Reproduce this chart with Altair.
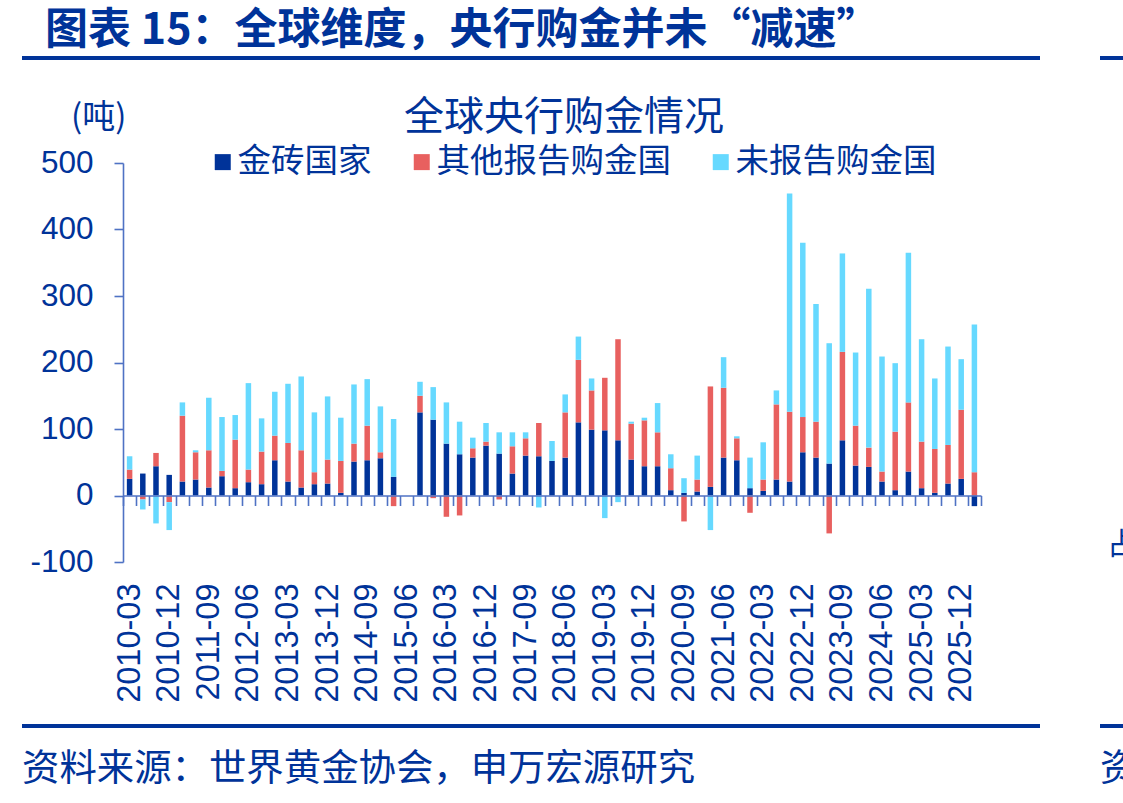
import altair as alt
import pandas as pd

quarters = [f"{y}-{m:02d}" for y in range(2010, 2027) for m in (3, 6, 9, 12)][:65]

brics = [25, 33, 44, 31, 21, 24, 12, 29, 11, 20, 17, 53, 21, 12, 17, 18, 4, 51, 53, 56,
         28, 0, 125, 114, 78, 62, 57, 75, 63, 33, 60, 59, 52, 57, 110, 99, 98, 83, 54, 44,
         44, 8, 4, 6, 13, 57, 53, 11, 7, 24, 21, 65, 57, 48, 83, 45, 43, 21, 8, 36,
         11, 4, 18, 25, -16]
other = [14, -6, 20, -10, 99, 41, 56, 8, 73, 19, 49, 37, 58, 56, 18, 36, 48, 27, 52, 9,
         -16, 0, 25, -4, -32, -30, 14, 6, -6, 41, 26, 50, 0, 68, 94, 59, 79, 152, 54, 69,
         51, 33, -39, 18, 151, 105, 33, -26, 17, 113, 105, 53, 54, -57, 133, 60, 29, 15, 88, 104,
         70, 66, 58, 104, 35]
unrep = [20, -15, -42, -42, 20, 3, 79, 81, 37, 130, 50, 66, 89, 111, 90, 95, 65, 89, 70, 69,
         87, 0, 21, 49, 62, 49, 16, 28, 32, 21, 9, -18, 30, 27, 35, 18, -34, -10, 3, 4,
         44, 21, 22, 36, -52, 46, 3, 46, 56, 21, 328, 262, 177, 181, 148, 110, 239, 173, 103, 225,
         154, 106, 148, 76, 222]

series_names = ["金砖国家", "其他报告购金国", "未报告购金国"]
series_colors = ["#003399", "#E8605F", "#66D9FF"]
label_quarters = quarters[0:64:3]
y_ticks = [-100, 0, 100, 200, 300, 400, 500]

heading = "图表 15：全球维度，央行购金并未“减速”"
chart_title = "全球央行购金情况"
unit_label = "(吨)"
footer = "资料来源：世界黄金协会，申万宏源研究"
edge_footer = "资料来源："
edge_glyph = "占"

rows = []
for i, q in enumerate(quarters):
    for k, (name, vals) in enumerate(zip(series_names, [brics, other, unrep])):
        rows.append({"q": q, "series": name, "ord": k, "value": vals[i]})
df = pd.DataFrame(rows)

W, H = 858, 399
X0, Y0 = 123, 163
TOTAL_W, TOTAL_H = 1123, 803
CJK = "Noto Sans CJK SC"
LAT = "Liberation Sans"
NAVY = "#003399"
AX = "#4F72C4"


def px(x):
    return x - X0


def py(y):
    return y - Y0


xscale = alt.Scale(domain=quarters, paddingInner=0, paddingOuter=0)
yscale = alt.Scale(domain=[-100, 500], nice=False, zero=False)

y_axis = alt.Axis(values=y_ticks, labelFont=LAT, labelFontSize=31.5,
                  labelExpr="'' + datum.value",
                  labelColor=NAVY, labelPadding=21, tickSize=9, tickColor=AX,
                  tickWidth=1.6, domainColor=AX, domainWidth=1.6, grid=False,
                  title=None)

label_layer = alt.Chart(df).mark_point(opacity=0).encode(
    x=alt.X("q:N", scale=xscale, sort=quarters,
            axis=alt.Axis(orient="bottom", values=label_quarters, labelAngle=270,
                          labelFont=LAT, labelFontSize=32.5, labelColor=NAVY,
                          labelPadding=21, ticks=False, tickSize=0, domain=False,
                          title=None, labelOverlap=False)),
    y=alt.Y("value:Q", scale=yscale, axis=y_axis),
)

bars = alt.Chart(df).mark_bar(size=5.5).encode(
    x=alt.X("q:N", scale=xscale, sort=quarters,
            axis=alt.Axis(orient="bottom", offset=-66.5, labels=False, domain=True,
                          domainColor=AX, domainWidth=1.6, ticks=True, tickBand="extent",
                          tickSize=10, tickColor=AX, tickWidth=1.6, title=None, zindex=1)),
    y=alt.Y("value:Q", scale=yscale, stack="zero", axis=y_axis),
    color=alt.Color("series:N", scale=alt.Scale(domain=series_names, range=series_colors),
                    legend=alt.Legend(orient="none", legendX=px(206), legendY=py(145),
                                      direction="horizontal", title=None, padding=0,
                                      symbolType="square", symbolSize=256,
                                      symbolStrokeWidth=0, labelFont=CJK,
                                      labelFontSize=33.5, labelColor=NAVY,
                                      labelOffset={"expr": "-2"},
                                      columnPadding=33, labelLimit=400)),
    order=alt.Order("ord:Q", sort="ascending"),
)

dummy = pd.DataFrame({"a": [0]})


def txt(text, x, y, size, weight="normal", align="left", font=CJK):
    return alt.Chart(pd.DataFrame({"t": [text]})).mark_text(
        align=align, baseline="middle", font=font, fontSize=size,
        fontWeight=weight, color=NAVY
    ).encode(x=alt.value(px(x)), y=alt.value(py(y)), text="t:N")


def hline(x1, x2, y, w=4):
    return alt.Chart(dummy).mark_rule(color=NAVY, strokeWidth=w).encode(
        x=alt.value(px(x1)), x2=alt.value(px(x2)), y=alt.value(py(y)))


layers = [
    label_layer,
    bars,
    txt(heading, 45, 31, 43, weight="bold"),
    txt(chart_title, 564, 118, 40, align="center"),
    txt(unit_label, 71, 118, 33),
    txt(footer, 22, 770, 37.4),
    txt(edge_footer, 1100, 770, 37.4),
    txt(edge_glyph, 1107, 545, 30),
    hline(22, 1040, 58),
    hline(1100, 1130, 58),
    hline(22, 1040, 726),
    hline(1100, 1130, 726),
]

chart = alt.layer(*layers).resolve_axis(x="independent").properties(
    width=W, height=H,
    autosize=alt.AutoSizeParams(type="none"),
    padding={"left": X0, "top": Y0, "right": TOTAL_W - X0 - W, "bottom": TOTAL_H - Y0 - H},
    background="white",
).configure_view(stroke=None)

chart.save("out.html", embed_options={"renderer": "svg", "actions": False})
